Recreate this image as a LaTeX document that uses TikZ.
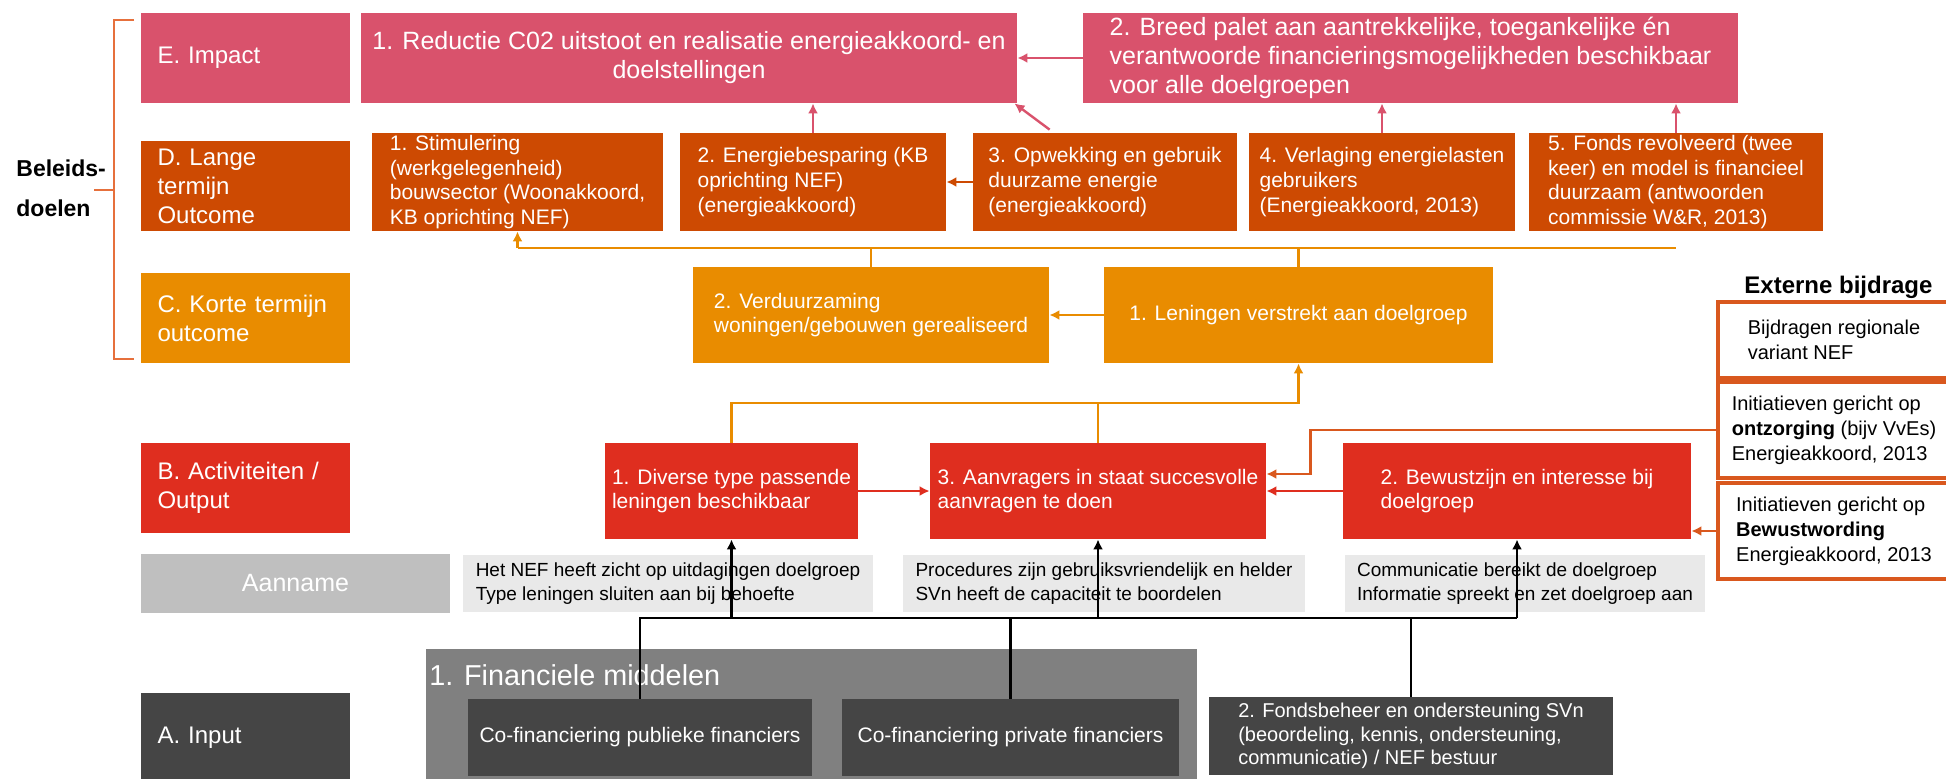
\documentclass[tikz,border=0pt]{standalone}
\usepackage{fontspec}
\setmainfont{Liberation Sans}
\usetikzlibrary{arrows.meta}
\tikzset{% change default arrow tips
    >={Latex[length=5pt,width=5pt]}
}
\definecolor{impactpink}{RGB}{217,82,108}
\definecolor{langeorange}{RGB}{205,74,2}
\definecolor{korteorange}{RGB}{233,140,0}
\definecolor{outputred}{RGB}{223,46,31}
\definecolor{aannamegray}{RGB}{191,191,191}
\definecolor{assumgray}{RGB}{233,233,233}
\definecolor{inputgray}{RGB}{69,69,69}
\definecolor{groupgray}{RGB}{128,128,128}
\definecolor{externorange}{RGB}{217,88,30}
\definecolor{bracketorange}{RGB}{230,112,60}

\begin{document}
\begin{tikzpicture}[x=0.5pt,y=-0.5pt]
    \newcommand{\labx}{245.5} % centre of the row labels
    \newcommand{\lw}{1.2pt} % width of the connectors

    % set the styles of the boxes and lines
    \tikzset{
        box/.style={inner sep=0pt, text=white, align=left,
            font=\fontsize{10.5}{12.3}\selectfont},
        rowlabel/.style={box, minimum width=104.5pt, minimum height=45pt,
            text width=88pt, font=\fontsize{12}{14.5}\selectfont},
        impactbox/.style={box, fill=impactpink, minimum height=45pt,
            font=\fontsize{12.5}{14.5}\selectfont},
        dbox/.style={box, fill=langeorange, minimum height=49pt},
        cbox/.style={box, fill=korteorange, minimum height=48pt},
        bbox/.style={box, fill=outputred, minimum height=48pt},
        assum/.style={box, fill=assumgray, text=black, minimum height=28.5pt,
            font=\fontsize{9.5}{11.7}\selectfont},
        extern/.style={box, draw=externorange, line width=1.6pt, text=black,
            minimum width=116pt, font=\fontsize{10}{12.5}\selectfont},
        inputbox/.style={box, fill=inputgray},
        pline/.style={impactpink, line width=\lw},
        dline/.style={langeorange, line width=\lw},
        cline/.style={korteorange, line width=\lw},
        rline/.style={outputred, line width=\lw},
        eline/.style={externorange, line width=\lw},
        kline/.style={black, line width=\lw}
    }

    \useasboundingbox (0,0) rectangle (1946,778);
    \fill[white] (0,0) rectangle (1946,778);
    \clip (0,0) rectangle (1946,778);

    % bracket Beleidsdoelen
    \node[anchor=west, align=left, inner sep=0pt,
        font=\bfseries\fontsize{11.5}{20}\selectfont] (beleid) at (16,188) {Beleids-\\doelen};
    \draw[bracketorange, line width=\lw] (134,20) -| (114,359) -- (134,359);
    \draw[bracketorange, line width=\lw] (94,190) -- (114,190);

    % row labels
    \node[rowlabel, fill=impactpink] (lblE) at (\labx,58) {E. Impact};
    \node[rowlabel, fill=langeorange] (lblD) at (\labx,186) {D. Lange\\termijn\\Outcome};
    \node[rowlabel, fill=korteorange] (lblC) at (\labx,318) {C. Korte termijn\\outcome};
    \node[rowlabel, fill=outputred] (lblB) at (\labx,488) {B. Activiteiten /\\Output};
    \node[box, fill=aannamegray, minimum width=154.5pt, minimum height=29.5pt, align=center,
        font=\fontsize{12.5}{14}\selectfont] (lblAan) at (295.5,583.5) {Aanname};
    \node[rowlabel, fill=inputgray] (lblA) at (\labx,738) {A. Input};

    % impact
    \node[impactbox, minimum width=328pt, align=center] (imp1) at (689,58)
        {1. Reductie C02 uitstoot en realisatie energieakkoord- en\\doelstellingen};
    \node[impactbox, minimum width=327.5pt] (imp2) at (1410.5,58)
        {2. Breed palet aan aantrekkelijke, toegankelijke én\\verantwoorde financieringsmogelijkheden beschikbaar\\voor alle doelgroepen};

    % lange termijn outcome
    \node[dbox, minimum width=145.5pt] (d1) at (517.5,182)
        {1. Stimulering\\(werkgelegenheid)\\bouwsector (Woonakkoord,\\KB oprichting NEF)};
    \node[dbox, minimum width=133pt] (d2) at (813,182)
        {2. Energiebesparing (KB\\oprichting NEF)\\(energieakkoord)};
    \node[dbox, minimum width=132pt] (d3) at (1105,182)
        {3. Opwekking en gebruik\\duurzame energie\\(energieakkoord)};
    \node[dbox, minimum width=133pt] (d4) at (1382,182)
        {4. Verlaging energielasten\\gebruikers\\(Energieakkoord, 2013)};
    \node[dbox, minimum width=147pt] (d5) at (1676,182)
        {5. Fonds revolveerd (twee\\keer) en model is financieel\\duurzaam (antwoorden\\commissie W\&R, 2013)};

    % korte termijn outcome
    \node[cbox, minimum width=178pt] (c2) at (871,315) {2. Verduurzaming\\woningen/gebouwen gerealiseerd};
    \node[cbox, minimum width=194.5pt] (c1) at (1298.5,315) {1. Leningen verstrekt aan doelgroep};

    % activiteiten / output
    \node[bbox, minimum width=126.5pt] (b1) at (731.5,491) {1. Diverse type passende\\leningen beschikbaar};
    \node[bbox, minimum width=168pt] (b3) at (1098,491) {3. Aanvragers in staat succesvolle\\aanvragen te doen};
    \node[bbox, minimum width=174pt] (b2) at (1517,491) {2. Bewustzijn en interesse bij\\doelgroep};

    % aannames
    \node[assum, minimum width=205pt] (as1) at (668,583.5)
        {Het NEF heeft zicht op uitdagingen doelgroep\\Type leningen sluiten aan bij behoefte};
    \node[assum, minimum width=201pt] (as2) at (1104,583.5)
        {Procedures zijn gebruiksvriendelijk en helder\\SVn heeft de capaciteit te boordelen};
    \node[assum, minimum width=180pt] (as3) at (1525,583.5)
        {Communicatie bereikt de doelgroep\\Informatie spreekt en zet doelgroep aan};

    % externe bijdrage
    \node[anchor=west, inner sep=0pt, font=\bfseries\fontsize{12}{14}\selectfont] (extkop) at (1744,287) {Externe bijdrage};
    \node[extern, minimum height=38pt] (ext1) at (1834,340) {Bijdragen regionale\\variant NEF};
    \node[extern, minimum height=48pt] (ext2) at (1834,430)
        {Initiatieven gericht op\\\textbf{ontzorging} (bijv VvEs)\\Energieakkoord, 2013};
    \node[extern, minimum height=48pt] (ext3) at (1834,531)
        {Initiatieven gericht op\\\textbf{Bewustwording}\\Energieakkoord, 2013};

    % input
    \node[box, fill=groupgray, minimum width=385.5pt, minimum height=70pt, anchor=north west] (fingroep) at (426,649) {};
    \node[anchor=west, inner sep=0pt, text=white, font=\fontsize{14.4}{16}\selectfont] (fintitel) at (429,675) {1. Financiele middelen};
    \node[inputbox, minimum width=172pt, minimum height=38.5pt] (cofpub) at (640,737.5) {Co-financiering publieke financiers};
    \node[inputbox, minimum width=168.5pt, minimum height=38.5pt] (cofpriv) at (1010.5,737.5) {Co-financiering private financiers};
    \node[inputbox, minimum width=202pt, minimum height=39pt, font=\fontsize{10}{11.7}\selectfont] (fonds) at (1411,736)
        {2. Fondsbeheer en ondersteuning SVn\\(beoordeling, kennis, ondersteuning,\\communicatie) / NEF bestuur};

    % bus lines
    \coordinate (cbus) at (0,248);
    \coordinate (bbus) at (0,403);
    \coordinate (kbus) at (0,618);

    % arrows to impact
    \draw[pline,->] (imp2.west) -- (imp1.east);
    \draw[pline,->] (d2.north) -- (d2.north |- imp1.south);
    \draw[pline,->] ([xshift=38.5pt,yshift=1.5pt]d3.north west) -- ([xshift=-1.5pt]imp1.south east);
    \foreach \n in {d4,d5}
        \draw[pline,->] (\n.north) -- (\n.north |- imp2.south);
    \draw[dline,->] (d3.west) -- (d2.east);

    % korte termijn to lange termijn
    \draw[cline] (c2.north) -- (c2.north |- cbus);
    \draw[cline] (c1.north) -- (c1.north |- cbus);
    \draw[cline] (d1.south |- cbus) -- (d5.south |- cbus);
    \foreach \n in {d1,...,d5}
        \draw[cline,->] (\n.south |- cbus) -- (\n.south);
    \draw[cline,->] (c1.west) -- (c2.east);

    % output to korte termijn
    \draw[cline,->] (b1.north) |- (c1.south |- bbus) -- (c1.south);
    \draw[cline] (b3.north) -- (b3.north |- bbus);
    \draw[rline,->] (b1.east) -- (b3.west);
    \draw[rline,->] (b2.west) -- (b3.east);
    \draw[eline,->] (ext2.west) -| ([xshift=22pt,yshift=8.5pt]b3.east) -- ([yshift=8.5pt]b3.east);
    \draw[eline,->] (ext3.west) -- (ext3.west -| b2.east);

    % input to output
    \draw[kline] (cofpub.north) -- (cofpub.north |- kbus) -- (b2.south |- kbus);
    \draw[kline] (cofpriv.north) -- (cofpriv.north |- kbus);
    \draw[kline] (fonds.north) -- (fonds.north |- kbus);
    \foreach \n in {b1,b3,b2}
        \draw[kline,->] (\n.south |- kbus) -- (\n.south);
\end{tikzpicture}
\end{document}
